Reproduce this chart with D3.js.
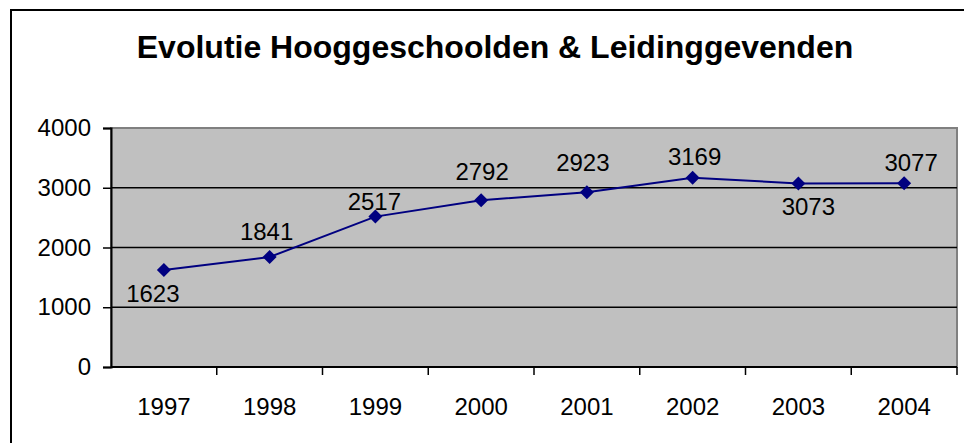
<!DOCTYPE html>
<html>
<head>
<meta charset="utf-8">
<script src="https://cdn.jsdelivr.net/npm/d3@7"></script>
<style>
  html, body { margin: 0; padding: 0; background: #fff; }
  svg { display: block; font-family: Arial, "Liberation Sans", sans-serif; }
</style>
</head>
<body>
<svg id="chart" width="964" height="443"></svg>
<script>
const title = "Evolutie Hooggeschoolden & Leidinggevenden";
const years = ["1997", "1998", "1999", "2000", "2001", "2002", "2003", "2004"];
const values = [1623, 1841, 2517, 2792, 2923, 3169, 3073, 3077];
const yTicks = [0, 1000, 2000, 3000, 4000];
// label placement offsets (dx, dy of baseline relative to point)
const labelDx = [-11, -3, -1, 1, -4, 2, 10, 7];
const labelDy = [32, -17, -7, -20, -21, -13, 32, -12];

const svg = d3.select("#chart");
const plot = { left: 111, right: 957, top: 128, bottom: 367 };

// outer frame
svg.append("rect")
  .attr("x", 11).attr("y", 10)
  .attr("width", 1000).attr("height", 500)
  .attr("fill", "#fff").attr("stroke", "#000").attr("stroke-width", 2);

// title
svg.append("text")
  .attr("x", 495).attr("y", 57.5)
  .attr("text-anchor", "middle")
  .attr("font-size", 32).attr("font-weight", "bold")
  .attr("fill", "#000")
  .text(title);

const x = d3.scaleBand().domain(years).range([plot.left, plot.right]).padding(0);
const y = d3.scaleLinear().domain([0, 4000]).range([plot.bottom, plot.top]);

// plot background
svg.append("rect")
  .attr("x", plot.left).attr("y", plot.top)
  .attr("width", plot.right - plot.left).attr("height", plot.bottom - plot.top)
  .attr("fill", "#c0c0c0")
  .attr("stroke", "#808080").attr("stroke-width", 2);

// gridlines
svg.append("g").selectAll("line")
  .data(yTicks.filter(t => t > 0 && t < 4000))
  .join("line")
  .attr("x1", plot.left).attr("x2", plot.right)
  .attr("y1", d => y(d)).attr("y2", d => y(d))
  .attr("stroke", "#000").attr("stroke-width", 1.5);

// y axis
const yAxis = d3.axisLeft(y).tickValues(yTicks).tickSize(8).tickPadding(12).tickFormat(d3.format("d"));
const gy = svg.append("g").attr("transform", `translate(${plot.left},0)`).call(yAxis);
gy.select(".domain").attr("stroke", "#000").attr("stroke-width", 2);
gy.selectAll(".tick line").attr("stroke", "#000").attr("stroke-width", 1.5);
gy.selectAll(".tick text").attr("font-size", 24).attr("fill", "#000")
  .attr("font-family", "Arial, 'Liberation Sans', sans-serif");

// x axis
const gx = svg.append("g").attr("transform", `translate(0,${plot.bottom})`)
  .call(d3.axisBottom(x).tickSize(0).tickPadding(0));
gx.select(".domain").remove();
gx.selectAll(".tick text")
  .attr("font-size", 24).attr("fill", "#000")
  .attr("font-family", "Arial, 'Liberation Sans', sans-serif")
  .attr("dy", null).attr("y", 48);
// x axis line and boundary ticks
svg.append("line")
  .attr("x1", plot.left).attr("x2", plot.right)
  .attr("y1", plot.bottom).attr("y2", plot.bottom)
  .attr("stroke", "#000").attr("stroke-width", 2);
const bounds = years.map(d => x(d)).concat([x(years[years.length - 1]) + x.bandwidth()]);
svg.append("g").selectAll("line")
  .data(bounds.slice(1))
  .join("line")
  .attr("x1", d => d).attr("x2", d => d)
  .attr("y1", plot.bottom).attr("y2", plot.bottom + 8)
  .attr("stroke", "#000").attr("stroke-width", 1.5);

// line
const cx = d => x(d) + x.bandwidth() / 2;
const line = d3.line().x((d, i) => cx(years[i])).y(d => y(d));
svg.append("path")
  .datum(values)
  .attr("d", line)
  .attr("fill", "none").attr("stroke", "#000080").attr("stroke-width", 2);

// markers
const diamond = d3.symbol().type(d3.symbolSquare).size(98);
svg.append("g").selectAll("path")
  .data(values)
  .join("path")
  .attr("d", diamond)
  .attr("transform", (d, i) => `translate(${cx(years[i])},${y(d)}) rotate(45)`)
  .attr("fill", "#000080");

// data labels
svg.append("g").selectAll("text")
  .data(values)
  .join("text")
  .attr("x", (d, i) => cx(years[i]) + labelDx[i])
  .attr("y", (d, i) => y(d) + labelDy[i])
  .attr("text-anchor", "middle")
  .attr("font-size", 24).attr("fill", "#000")
  .text(d => d);
</script>
</body>
</html>
